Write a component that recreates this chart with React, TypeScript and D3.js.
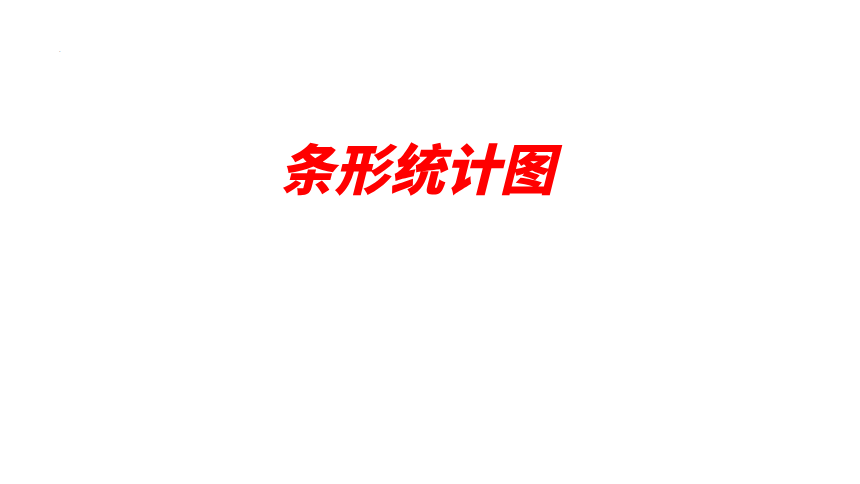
import React, { useEffect, useRef } from "react";
import * as d3 from "d3";

const titleText = ["条形统计图"];
const markerText = ["."];

const W = 860;
const H = 484;

export default function App() {
  const ref = useRef<SVGSVGElement | null>(null);

  useEffect(() => {
    document.body.style.margin = "0";
    const svg = d3.select(ref.current);
    svg.selectAll("*").remove();
    svg.append("rect").attr("width", W).attr("height", H).attr("fill", "#ffffff");

    svg
      .selectAll("text.title")
      .data(titleText)
      .join("text")
      .attr("class", "title")
      .attr("x", 417)
      .attr("y", 190)
      .attr("text-anchor", "middle")
      .attr("font-family", "'Noto Sans CJK SC', 'Noto Sans CJK JP', sans-serif")
      .attr("font-weight", 900)
      .attr("font-style", "italic")
      .attr("font-size", 55)
      .attr("fill", "#ff0000")
      .text((d) => d);

    svg
      .selectAll("text.marker")
      .data(markerText)
      .join("text")
      .attr("class", "marker")
      .attr("x", 59)
      .attr("y", 52)
      .attr("font-family", "'Noto Sans', sans-serif")
      .attr("font-size", 6)
      .attr("fill", "#888888")
      .text((d) => d);
  }, []);

  return (
    <svg
      ref={ref}
      width={W}
      height={H}
      style={{ position: "absolute", left: 0, top: 0, display: "block" }}
    />
  );
}
